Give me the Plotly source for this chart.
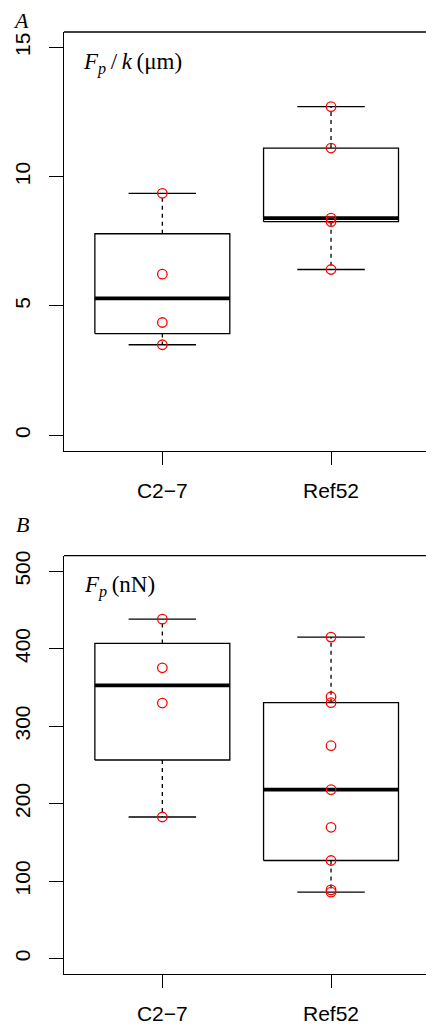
import numpy as np
import plotly.graph_objects as go

# Groups and measured values
groups = ["C2\u22127", "Ref52"]
fpk_c27 = [3.50, 4.36, 6.23, 9.36]
fpk_ref52 = [6.41, 8.26, 8.40, 11.11, 12.71]
fp_c27 = [182.7, 329.8, 375.3, 438.1]
fp_ref52 = [85.6, 88.6, 126.5, 169.4, 218.0, 274.7, 330.2, 337.9, 414.9]

panel_a = [fpk_c27, fpk_ref52]
panel_b = [fp_c27, fp_ref52]

W, H = 426, 1028
ML, MR, MT, MB = 64, 0, 32, 54

BOX_HALF = 0.4
STAPLE_HALF = 0.2
LINE_W = 1.3


def fivenum(values):
    v = np.sort(np.asarray(values, dtype=float))
    n = len(v)
    n4 = np.floor((n + 3) / 2) / 2
    d = np.array([1, n4, (n + 1) / 2, n + 1 - n4, n]) - 1
    return 0.5 * (v[np.floor(d).astype(int)] + v[np.ceil(d).astype(int)])


def box_stats(values):
    v = np.asarray(values, dtype=float)
    lo, q1, med, q3, hi = fivenum(v)
    iqr = q3 - q1
    lo_w = v[v >= q1 - 1.5 * iqr].min()
    hi_w = v[v <= q3 + 1.5 * iqr].max()
    return lo_w, q1, med, q3, hi_w


def add_boxes(fig, data, xa, ya):
    for i, vals in enumerate(data):
        x0 = i + 1
        lo, q1, med, q3, hi = box_stats(vals)
        # dashed whiskers
        fig.add_trace(go.Scatter(
            x=[x0, x0, None, x0, x0], y=[q3, hi, None, q1, lo],
            mode="lines", line=dict(color="black", width=LINE_W, dash="4px,4px"),
            xaxis=xa, yaxis=ya, hoverinfo="skip", showlegend=False))
        # staples
        fig.add_trace(go.Scatter(
            x=[x0 - STAPLE_HALF, x0 + STAPLE_HALF, None, x0 - STAPLE_HALF, x0 + STAPLE_HALF],
            y=[hi, hi, None, lo, lo],
            mode="lines", line=dict(color="black", width=LINE_W),
            xaxis=xa, yaxis=ya, hoverinfo="skip", showlegend=False))
        # box
        fig.add_trace(go.Scatter(
            x=[x0 - BOX_HALF, x0 + BOX_HALF, x0 + BOX_HALF, x0 - BOX_HALF, x0 - BOX_HALF],
            y=[q1, q1, q3, q3, q1],
            mode="lines", line=dict(color="black", width=LINE_W),
            xaxis=xa, yaxis=ya, hoverinfo="skip", showlegend=False))
        # median
        fig.add_trace(go.Scatter(
            x=[x0 - BOX_HALF, x0 + BOX_HALF], y=[med, med],
            mode="lines", line=dict(color="black", width=3.6),
            xaxis=xa, yaxis=ya, hoverinfo="skip", showlegend=False))
    for i, vals in enumerate(data):
        fig.add_trace(go.Scatter(
            x=[i + 1] * len(vals), y=vals, mode="markers",
            marker=dict(symbol="circle-open", size=9.5, color="#ff0000",
                        line=dict(color="#ff0000", width=1.3)),
            xaxis=xa, yaxis=ya, hoverinfo="skip", showlegend=False))


fig = go.Figure()
add_boxes(fig, panel_a, "x", "y")
add_boxes(fig, panel_b, "x2", "y2")

tick_font = dict(family="Liberation Sans, Arial, sans-serif", size=21, color="black")

plot_h = H - MT - MB


def py(px_y):
    return (H - MB - px_y) / plot_h


def px(px_x):
    return (px_x - ML) / (W - ML - MR)


xaxis_common = dict(
    range=[0.417, 2.563], tickvals=[1, 2], ticktext=groups, ticks="outside",
    ticklen=13, tickwidth=LINE_W, tickcolor="black", showline=True, linecolor="black",
    linewidth=LINE_W, showgrid=False, zeroline=False, tickfont=tick_font,
    ticklabelstandoff=8,
)
yaxis_common = dict(
    ticks="outside", ticklen=14, tickwidth=LINE_W, tickcolor="black", showline=True,
    linecolor="black", linewidth=LINE_W, showgrid=False, zeroline=False,
    tickfont=tick_font, tickangle=-90, ticklabelstandoff=10,
)

fig.update_layout(
    width=W, height=H,
    margin=dict(l=ML, r=MR, t=MT, b=MB, pad=0),
    paper_bgcolor="white", plot_bgcolor="white",
    xaxis=dict(anchor="y", **xaxis_common),
    xaxis2=dict(anchor="y2", **xaxis_common),
    yaxis=dict(anchor="x", domain=[py(450.7), 1.0], range=[-0.6, 15.6],
               tickvals=[0, 5, 10, 15], **yaxis_common),
    yaxis2=dict(anchor="x2", domain=[0.0, py(555.7)], range=[-20, 520],
                tickvals=[0, 100, 200, 300, 400, 500], **yaxis_common),
)

# top edge of each panel frame
for xr, yr in (("x domain", "y domain"), ("x2 domain", "y2 domain")):
    fig.add_shape(type="line", xref=xr, yref=yr, x0=0, x1=1, y0=1, y1=1,
                  line=dict(color="black", width=LINE_W))

serif = "Liberation Serif, Times New Roman, serif"
anns = [
    dict(text="<i>A</i>", x=px(21), y=py(20), xanchor="center", yanchor="middle",
         font=dict(family=serif, size=22, color="black")),
    dict(text="<i>B</i>", x=px(22), y=py(524), xanchor="center", yanchor="middle",
         font=dict(family=serif, size=22, color="black")),
    dict(text="<i>F</i><sub><i>p</i></sub>\u2009/\u2009<i>k</i>\u2009(\u03bcm)", x=px(81), y=py(64),
         xanchor="left", yanchor="middle", font=dict(family=serif, size=23, color="black")),
    dict(text="<i>F</i><sub><i>p</i></sub>\u2009(nN)", x=px(82), y=py(586),
         xanchor="left", yanchor="middle", font=dict(family=serif, size=23, color="black")),
]
for a in anns:
    fig.add_annotation(xref="paper", yref="paper", showarrow=False, **a)

fig.write_html("out.html")
